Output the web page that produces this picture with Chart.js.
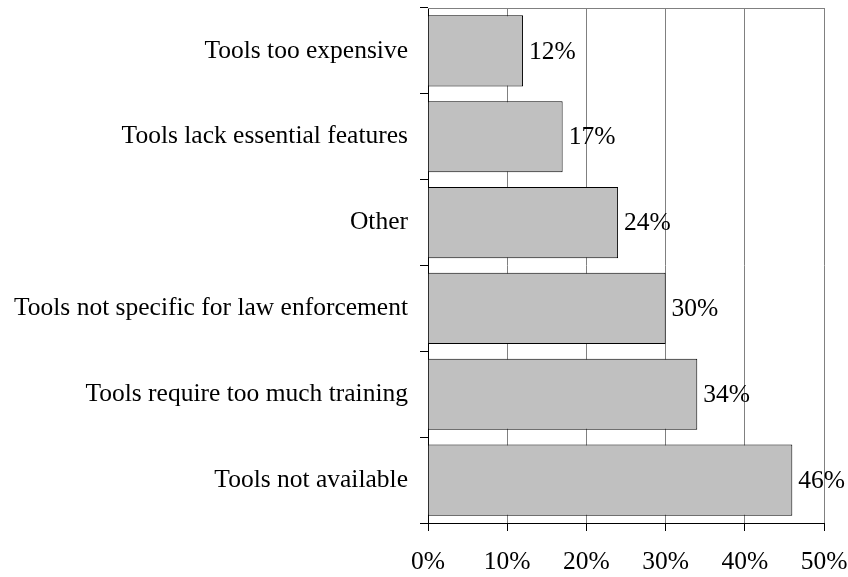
<!DOCTYPE html>
<html>
<head>
<meta charset="utf-8">
<script src="https://cdn.jsdelivr.net/npm/chart.js@4"></script>
<style>
  html, body { margin: 0; padding: 0; background: #fff; }
  #wrap { width: 848px; height: 577px; position: relative; }
</style>
</head>
<body>
<div id="wrap"><canvas id="chart"></canvas></div>
<script>
// categories, top to bottom
const categories = [
  'Tools too expensive',
  'Tools lack essential features',
  'Other',
  'Tools not specific for law enforcement',
  'Tools require too much training',
  'Tools not available'
];
// share of respondents (%)
const shares = [12, 17, 24, 30, 34, 46];
const xTicks = [0, 10, 20, 30, 40, 50];

const serif = '"Liberation Serif", "Times New Roman", serif';
const fontSize = 25.5;

// value labels to the right of each bar
const barLabels = {
  id: 'barLabels',
  afterDatasetsDraw(chart) {
    const ctx = chart.ctx;
    const meta = chart.getDatasetMeta(0);
    ctx.save();
    ctx.font = fontSize + 'px ' + serif;
    ctx.fillStyle = '#000';
    ctx.textAlign = 'left';
    ctx.textBaseline = 'middle';
    meta.data.forEach((bar, i) => {
      ctx.fillText(shares[i] + '%', bar.x + 6, bar.y + 1);
    });
    ctx.restore();
  }
};

// grey line along the top of the plot area
const topBorder = {
  id: 'topBorder',
  beforeDatasetsDraw(chart) {
    const { ctx, chartArea } = chart;
    ctx.save();
    ctx.strokeStyle = '#808080';
    ctx.lineWidth = 1;
    ctx.beginPath();
    ctx.moveTo(chartArea.left, chartArea.top + 0.5);
    ctx.lineTo(chartArea.right, chartArea.top + 0.5);
    ctx.stroke();
    ctx.restore();
  }
};

// drop the extra room Chart.js keeps for overhanging tick labels
const noOverhang = axis => {
  axis.paddingTop = 0;
  axis.paddingBottom = 0;
  axis.paddingLeft = 0;
  axis.paddingRight = 0;
};

new Chart(document.getElementById('chart'), {
  type: 'bar',
  data: {
    labels: categories,
    datasets: [{
      data: shares,
      backgroundColor: '#c0c0c0',
      borderColor: '#000',
      borderWidth: 1,
      barPercentage: 0.83,
      categoryPercentage: 1
    }]
  },
  options: {
    indexAxis: 'y',
    responsive: true,
    maintainAspectRatio: false,
    animation: false,
    layout: { padding: { top: 8, right: 24, left: 0, bottom: 0 } },
    plugins: {
      legend: { display: false },
      tooltip: { enabled: false }
    },
    scales: {
      x: {
        min: 0,
        max: 50,
        afterBuildTicks: axis => { axis.ticks = xTicks.map(v => ({ value: v })); },
        afterFit: axis => { axis.height = 54; noOverhang(axis); },
        border: { color: '#000', width: 1 },
        grid: {
          color: c => c.index === 0 ? 'rgba(0,0,0,0)' : '#808080',
          tickColor: '#000',
          tickLength: 8
        },
        ticks: {
          color: '#000',
          padding: 16,
          font: { family: serif, size: fontSize },
          callback: v => v + '%'
        }
      },
      y: {
        afterFit: axis => { axis.width = 428; noOverhang(axis); },
        border: { color: '#000', width: 1 },
        grid: {
          offset: true,
          drawOnChartArea: false,
          tickColor: '#000',
          tickLength: 8
        },
        ticks: {
          color: '#000',
          padding: 12,
          font: { family: serif, size: fontSize }
        }
      }
    }
  },
  plugins: [barLabels, topBorder]
});
</script>
</body>
</html>
